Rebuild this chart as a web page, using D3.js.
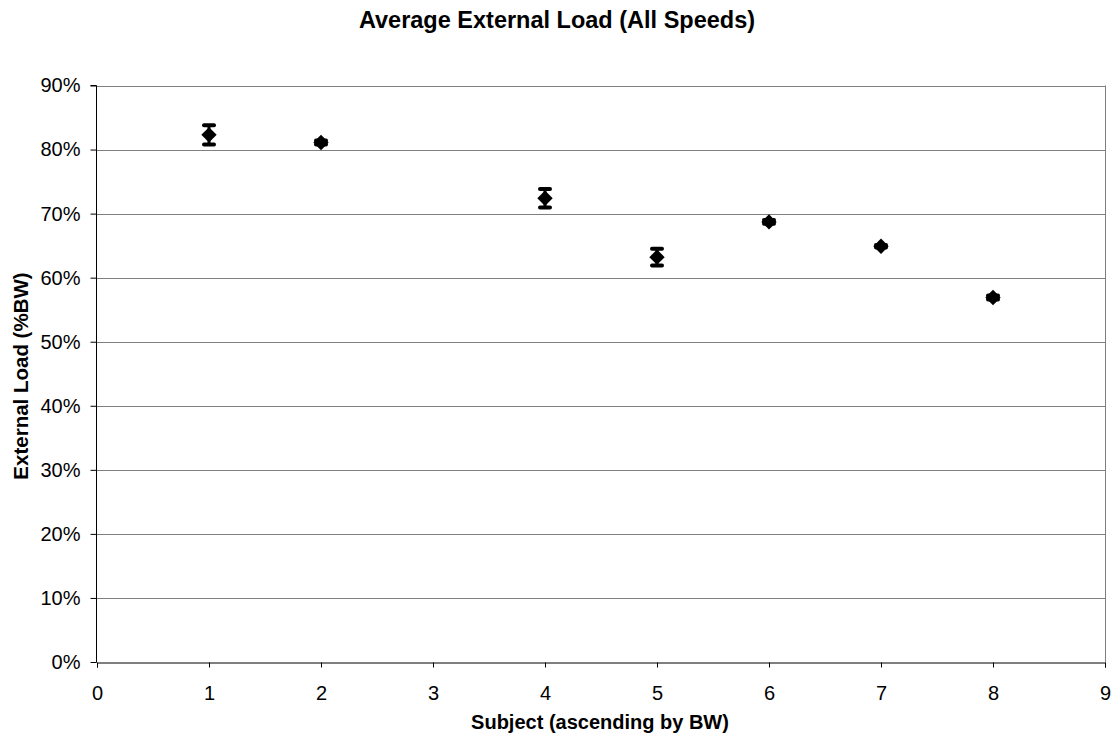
<!DOCTYPE html>
<html>
<head>
<meta charset="utf-8">
<script src="https://cdn.jsdelivr.net/npm/d3@7"></script>
<style>
  body{margin:0;background:#fff;}
  svg{display:block;font-family:Arial,"Liberation Sans",sans-serif;}
</style>
</head>
<body>
<svg id="chart" width="1112" height="738"></svg>
<script>
// data
var subjects=[1,2,4,5,6,7,8];
var loadMean=[82.3,81.1,72.4,63.2,68.7,64.9,56.9];
var loadErr=[1.5,0.3,1.45,1.3,0.3,0.2,0.3];
var xTicks=[0,1,2,3,4,5,6,7,8,9];
var yTicks=[0,10,20,30,40,50,60,70,80,90];

var svg=d3.select("#chart");
var m={left:97,top:85.5,right:1105,bottom:662};

var x=d3.scaleLinear().domain([0,9]).range([m.left,m.right]);
var y=d3.scaleLinear().domain([0,90]).range([m.bottom,m.top]);

// grid lines
svg.append("g").selectAll("line").data(yTicks.slice(1)).enter().append("line")
    .attr("x1",m.left).attr("x2",m.right)
    .attr("y1",function(d){return Math.round(y(d))+0.5;})
    .attr("y2",function(d){return Math.round(y(d))+0.5;})
    .attr("stroke","#808080").attr("stroke-width",1);

// right border
svg.append("line").attr("x1",m.right+0.5).attr("x2",m.right+0.5)
    .attr("y1",m.top).attr("y2",m.bottom).attr("stroke","#808080");

// y axis
var yAxis=d3.axisLeft(y).tickValues(yTicks).tickSize(6).tickPadding(10)
    .tickFormat(function(d){return d+"%";});
var gy=svg.append("g").attr("transform","translate("+(m.left-0.5)+",0)").call(yAxis);
gy.select(".domain").attr("stroke","#000");
gy.selectAll(".tick line").attr("stroke","#000");
gy.selectAll("text").attr("font-size","20px").attr("fill","#000")
    .attr("font-family","Arial,'Liberation Sans',sans-serif");

// x axis
var xAxis=d3.axisBottom(x).tickValues(xTicks).tickSize(5).tickPadding(18)
    .tickFormat(d3.format("d"));
var gx=svg.append("g").attr("transform","translate(0,"+(m.bottom+0.5)+")").call(xAxis);
gx.select(".domain").attr("stroke","#000");
gx.selectAll(".tick line").attr("stroke","#000");
gx.selectAll("text").attr("font-size","20px").attr("fill","#000")
    .attr("font-family","Arial,'Liberation Sans',sans-serif");
gy.select(".domain").attr("d","M-6,"+m.top+"H0V"+(m.bottom+0.5));

// error bars
var pts=subjects.map(function(s,i){return {s:s,v:loadMean[i],e:loadErr[i]};});
var eb=svg.append("g").selectAll("g").data(pts).enter().append("g");
eb.append("line")
    .attr("x1",function(d){return x(d.s);}).attr("x2",function(d){return x(d.s);})
    .attr("y1",function(d){return y(d.v+d.e);}).attr("y2",function(d){return y(d.v-d.e);})
    .attr("stroke","#000").attr("stroke-width",3);
eb.selectAll(".cap").data(function(d){return [d.v+d.e,d.v-d.e].map(function(v){return {s:d.s,v:v};});})
    .enter().append("line").attr("class","cap")
    .attr("x1",function(d){return x(d.s)-5;}).attr("x2",function(d){return x(d.s)+5;})
    .attr("y1",function(d){return y(d.v);}).attr("y2",function(d){return y(d.v);})
    .attr("stroke","#000").attr("stroke-width",4).attr("stroke-linecap","round");

// diamond markers
var diamond=d3.symbol().type(d3.symbolDiamond2).size(150);
svg.append("g").selectAll("path").data(pts).enter().append("path")
    .attr("d",diamond)
    .attr("transform",function(d){return "translate("+x(d.s)+","+y(d.v)+")";})
    .attr("fill","#000");

// titles
svg.append("text").attr("x",557).attr("y",28).attr("text-anchor","middle")
    .attr("font-size","23.5px").attr("font-weight","bold")
    .text("Average External Load (All Speeds)");
svg.append("text").attr("x",600).attr("y",729).attr("text-anchor","middle")
    .attr("font-size","20px").attr("font-weight","bold")
    .text("Subject (ascending by BW)");
svg.append("text").attr("transform","translate(28,"+376+") rotate(-90)")
    .attr("text-anchor","middle").attr("font-size","20.5px").attr("font-weight","bold")
    .text("External Load (%BW)");
</script>
</body>
</html>
